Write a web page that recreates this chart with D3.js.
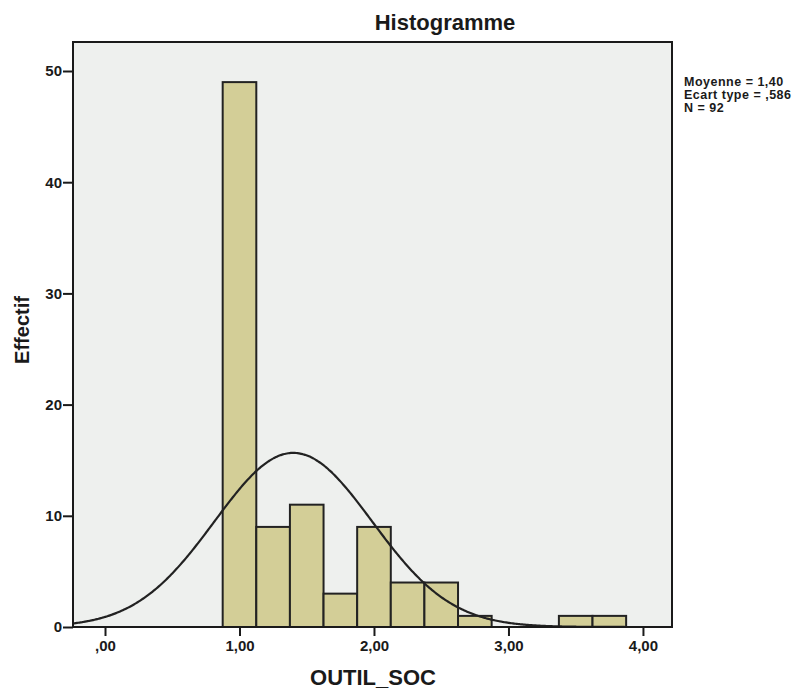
<!DOCTYPE html>
<html><head><meta charset="utf-8">
<script src="https://cdn.jsdelivr.net/npm/d3@7"></script>
<style>body{margin:0;background:#fff}svg{display:block}text{font-family:"Liberation Sans",Arial,sans-serif;fill:#1a1a1a}</style>
</head><body>
<script>
const binStarts = [0.875,1.125,1.375,1.625,1.875,2.125,2.375,2.625,2.875,3.125,3.375,3.625];
const counts    = [49,9,11,3,9,4,4,1,0,0,1,1];
const binWidth = 0.25;
const xTicks = [0,1,2,3,4];
const xTickLabels = [",00","1,00","2,00","3,00","4,00"];
const yTicks = [0,10,20,30,40,50];
const stats = ["Moyenne = 1,40","Ecart type = ,586","N = 92"];
const mean = 1.40, sd = 0.586, N = 92;

const W=804,H=690;
const L=73,R=672,T=42,B=627;
const svg=d3.select("body").append("svg").attr("width",W).attr("height",H);
const x=d3.scaleLinear().domain([-0.238,4.216]).range([L,R]);
const y=d3.scaleLinear().domain([0,50]).range([B,71]);

svg.append("rect").attr("x",L).attr("y",T).attr("width",R-L).attr("height",B-T).attr("fill","#eef0ee");

const bins = counts.map((c,i)=>({s:binStarts[i],c})).filter(d=>d.c>0);
svg.selectAll("rect.bar").data(bins).enter().append("rect").attr("class","bar")
  .attr("x",d=>x(d.s)).attr("width",d=>x(d.s+binWidth)-x(d.s))
  .attr("y",d=>y(d.c)).attr("height",d=>y(0)-y(d.c))
  .attr("fill","#d3ce97").attr("stroke","#222").attr("stroke-width",2);

// normal curve
const pts=d3.range(-0.238,4.2161,0.01).map(v=>[v, N*binWidth*Math.exp(-0.5*((v-mean)/sd)**2)/(sd*Math.sqrt(2*Math.PI))]);
svg.append("path").datum(pts).attr("fill","none").attr("stroke","#222").attr("stroke-width",2.2)
  .attr("d",d3.line().x(d=>x(d[0])).y(d=>y(d[1])).curve(d3.curveBasis));

// frame
svg.append("rect").attr("x",L).attr("y",T).attr("width",R-L).attr("height",B-T).attr("fill","none").attr("stroke","#1a1a1a").attr("stroke-width",2);

// axes
const ya=svg.append("g").attr("transform",`translate(${L},0)`)
  .call(d3.axisLeft(y).tickValues(yTicks).tickSize(10).tickSizeOuter(0).tickPadding(1).tickFormat(d3.format("d")));
const xa=svg.append("g").attr("transform",`translate(0,${B})`)
  .call(d3.axisBottom(x).tickValues(xTicks).tickSize(9).tickSizeOuter(0).tickPadding(4).tickFormat((d,i)=>xTickLabels[i]));
[ya,xa].forEach(g=>{g.select(".domain").remove();g.selectAll(".tick line").attr("stroke","#1a1a1a").attr("stroke-width",2);
  g.selectAll("text").attr("font-size",15).attr("font-weight","bold").attr("font-family","Liberation Sans, Arial, sans-serif").attr("fill","#1a1a1a");});

svg.append("text").attr("x",445).attr("y",30).attr("text-anchor","middle").attr("font-size",22).attr("font-weight","bold").text("Histogramme");
svg.append("text").attr("x",373).attr("y",685).attr("text-anchor","middle").attr("font-size",22).attr("font-weight","bold").text("OUTIL_SOC");
svg.append("text").attr("transform","translate(29,330) rotate(-90)").attr("text-anchor","middle").attr("font-size",20).attr("font-weight","bold").text("Effectif");

svg.append("g").selectAll("text").data(stats).enter().append("text")
  .attr("x",684).attr("y",(d,i)=>86+i*13).attr("font-size",12.5).attr("letter-spacing",0.5)
  .attr("font-weight","bold").text(d=>d);
</script>
</body></html>
